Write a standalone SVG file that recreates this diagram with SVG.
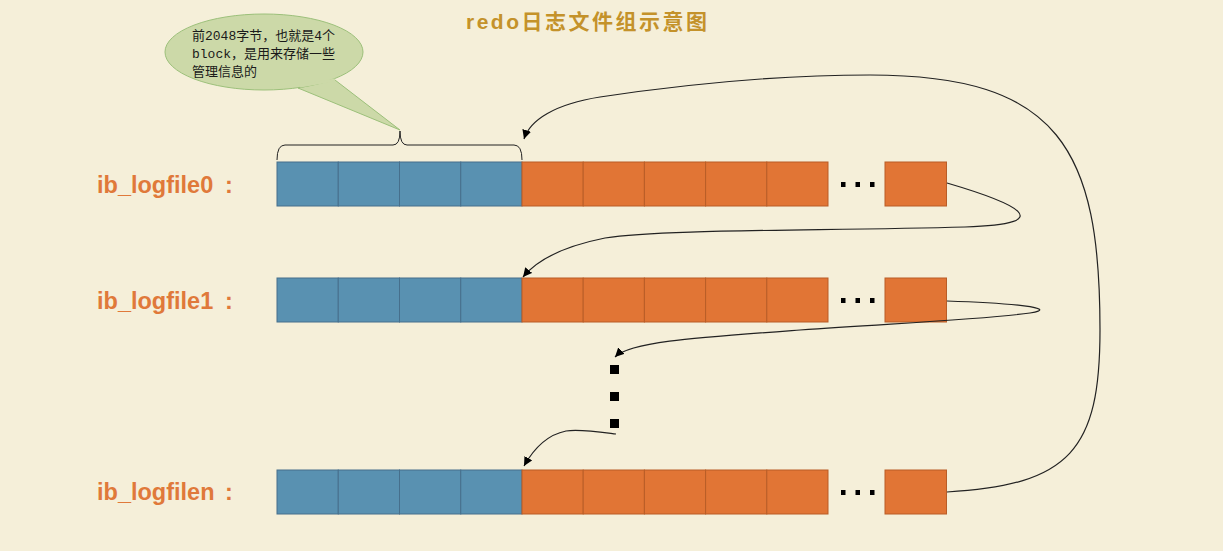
<svg xmlns="http://www.w3.org/2000/svg" width="1223" height="551" viewBox="0 0 1223 551">
<style>
.bg{fill:#f5efd9}
.blue{fill:#5991b1;stroke:#466f8c;stroke-width:1}
.orange{fill:#e17535;stroke:#b95d27;stroke-width:1}
.lbl{font-family:"Liberation Sans",Arial,sans-serif;font-weight:bold;font-size:23.5px;fill:#e0793a}
.title{font-family:"Liberation Sans","Noto Sans CJK SC",sans-serif;font-weight:bold;font-size:21px;fill:#c4922a;letter-spacing:2.5px}
.note{font-family:"Liberation Mono","Noto Sans CJK SC",monospace;font-size:13px;fill:#1a1a1a}
.conn{fill:none;stroke:#222;stroke-width:1.2}
.dot{fill:#000}
</style>
<defs>
<marker id="arr" viewBox="0 0 10 10" refX="10" refY="5" markerWidth="9" markerHeight="9" markerUnits="userSpaceOnUse" orient="auto">
<path d="M0,0 L10,5 L0,10 z" fill="#000"/>
</marker>
<g id="blocks">
<rect class="blue" x="277" y="0" width="61.25" height="44"/>
<rect class="blue" x="338.25" y="0" width="61.25" height="44"/>
<rect class="blue" x="399.5" y="0" width="61.25" height="44"/>
<rect class="blue" x="460.75" y="0" width="61.25" height="44"/>
<rect class="orange" x="522" y="0" width="61.2" height="44"/>
<rect class="orange" x="583.2" y="0" width="61.2" height="44"/>
<rect class="orange" x="644.4" y="0" width="61.2" height="44"/>
<rect class="orange" x="705.6" y="0" width="61.2" height="44"/>
<rect class="orange" x="766.8" y="0" width="61.2" height="44"/>
<rect class="dot" x="841" y="20" width="4.5" height="5"/>
<rect class="dot" x="855.5" y="20" width="4.5" height="5"/>
<rect class="dot" x="870" y="20" width="4.5" height="5"/>
<rect class="orange" x="885" y="0" width="61.5" height="44"/>
</g>
</defs>
<rect class="bg" x="0" y="0" width="1223" height="551"/>

<text class="title" x="466" y="29">redo日志文件组示意图</text>

<g id="note">
<path d="M298,88 L400,130 L335,80 Z" fill="#ccd9a8" stroke="#9cc07a" stroke-width="1"/>
<ellipse cx="264" cy="52" rx="99" ry="38" fill="#ccd9a8" stroke="#9cc07a" stroke-width="1"/>
<path d="M300,86 L335,80" stroke="#ccd9a8" stroke-width="3"/>
<text class="note" x="192" y="40">前2048字节，也就是4个</text>
<text class="note" x="192" y="58">block，是用来存储一些</text>
<text class="note" x="192" y="76">管理信息的</text>
</g>

<g id="brace">
<path d="M277,160 Q277,145 285,145 L393,145 Q400,145 400,131 Q400,145 407,145 L514,145 Q522,145 522,160" fill="none" stroke="#222" stroke-width="1"/>
</g>

<g id="logfile0">
<text class="lbl" x="97" y="193">ib_logfile0</text>
<text class="lbl" x="225" y="193">:</text>
<use href="#blocks" y="162"/>
</g>
<g id="logfile1">
<text class="lbl" x="97" y="309">ib_logfile1</text>
<text class="lbl" x="225" y="309">:</text>
<use href="#blocks" y="278"/>
</g>
<g id="ellipsis">
<rect class="dot" x="610" y="365" width="9" height="9"/>
<rect class="dot" x="610" y="392" width="9" height="9"/>
<rect class="dot" x="610" y="419" width="9" height="9"/>
</g>
<g id="logfilen">
<text class="lbl" x="97" y="500">ib_logfilen</text>
<text class="lbl" x="225" y="500">:</text>
<use href="#blocks" y="470"/>
</g>

<g id="connectors">
<path class="conn" marker-end="url(#arr)" d="M947,183 C1015,203 1062,224 965,227 C820,231 660,229 605,238 C565,246 537,260 523,277"/>
<path class="conn" marker-end="url(#arr)" d="M947,301 C1010,303 1062,308 1030,313 C990,319 900,323 800,330 C690,338 630,342 615,357"/>
<path class="conn" marker-end="url(#arr)" d="M616,434 C600,432 580,429 566,431 C546,435 533,450 524,466"/>
<path class="conn" marker-end="url(#arr)" d="M947,492 C1070,485 1100,450 1100,330 C1100,150 1060,75 870,75 C760,75 660,88 600,97 C555,104 530,120 524,139"/>
</g>
</svg>
